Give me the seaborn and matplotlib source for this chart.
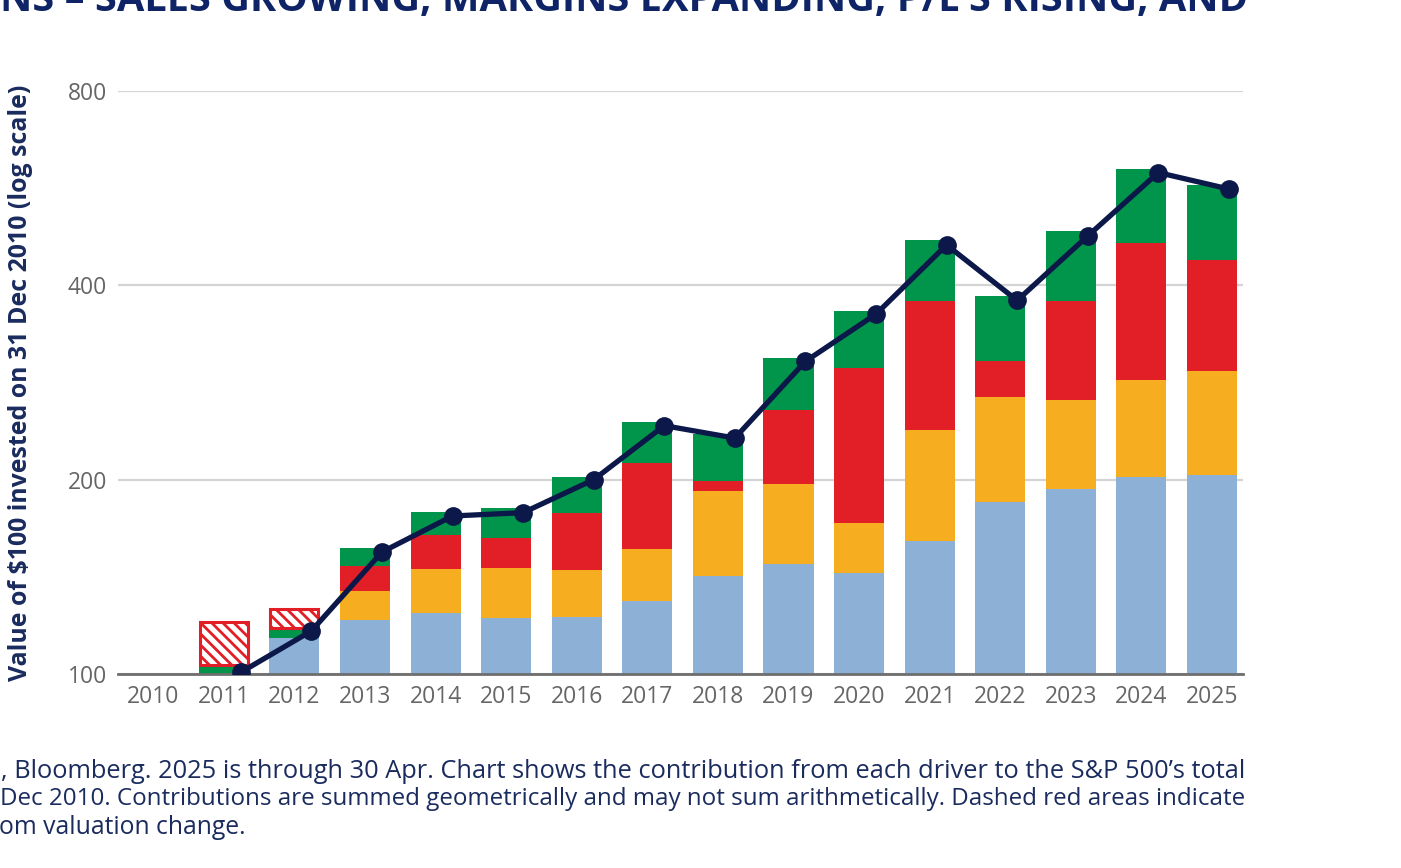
import numpy as np
import seaborn as sns
import matplotlib
matplotlib.use('Agg')
import matplotlib.pyplot as plt

# ---- data (value of $100 invested, log scale) ----
years = [str(y) for y in range(2010, 2026)]
sales_top = [np.nan, np.nan, 113.8, 121.1, 124.2, 122.2, 122.4, 129.8, 141.9,
             148.2, 143.2, 160.9, 184.9, 193.3, 201.7, 203.4]
margin_top = [np.nan, np.nan, np.nan, 134.3, 145.6, 146.0, 144.9, 156.0, 192.1,
              197.0, 171.6, 238.6, 268.7, 266.1, 285.7, 295.1]
pe_top = [np.nan, np.nan, np.nan, 147.2, 164.0, 162.6, 177.8, 212.5, 199.0,
          256.5, 298.2, 378.0, 305.1, 378.0, 465.8, 438.0]
div_top = [np.nan, 103.3, 118.0, 156.8, 178.0, 180.6, 201.9, 246.0, 235.4,
           308.7, 365.5, 470.4, 385.6, 486.2, 606.6, 572.9]
# negative contribution from valuation change (dashed red boxes)
pe_neg_top = [np.nan, 120.5, 125.9, np.nan, np.nan, np.nan, np.nan, np.nan, np.nan,
              np.nan, np.nan, np.nan, np.nan, np.nan, np.nan, np.nan]
total_return = [np.nan, 100.6, 116.6, 154.5, 175.7, 177.8, 200.0, 242.5, 232.0,
                305.0, 361.0, 462.0, 379.0, 477.0, 598.0, 564.0]
yticks = [100, 200, 400, 800]

c_sales = '#8DB1D6'
c_margin = '#F6AD1F'
c_pe = '#E21F26'
c_div = '#00954A'
navy = '#0B1849'
text_navy = '#1A2B5E'

sns.set_theme(style='white')
plt.rcParams['font.family'] = ['Open Sans', 'DejaVu Sans']
plt.rcParams['hatch.linewidth'] = 2.0

fig = plt.figure(figsize=(14.01, 8.68), dpi=100)
ax = fig.add_axes([118 / 1401, 194 / 868, 1125 / 1401, 583 / 868])

bar_w = 0.71
# stacked bars drawn as overlapping layers, tallest first
for vals, col in [(div_top, c_div), (pe_top, c_pe), (margin_top, c_margin), (sales_top, c_sales)]:
    sns.barplot(x=years, y=vals, order=years, color=col, saturation=1,
                width=bar_w, errorbar=None, linewidth=0, ax=ax)

ax.set_yscale('log')

pos = np.arange(len(years))
neg = np.array(pe_neg_top)
base = np.array(div_top)
m = ~np.isnan(neg)
ax.bar(pos[m], neg[m] - base[m], bottom=base[m], width=bar_w - 0.03,
       facecolor='white', edgecolor=c_pe, hatch='\\\\\\', linewidth=2.2, zorder=2)

tot = np.array(total_return)
mt = ~np.isnan(tot)
sns.lineplot(x=pos[mt] + 0.24, y=tot[mt], color=navy, linewidth=3.8,
             marker='o', markersize=13.5, markeredgewidth=0, ax=ax, zorder=5)

ax.set_ylim(100, 800)
ax.set_xlim(-0.5, 15.44)
ax.set_yticks(yticks)
ax.set_yticklabels([str(v) for v in yticks])
ax.yaxis.set_minor_locator(matplotlib.ticker.NullLocator())
ax.grid(axis='y', color='#D4D4D4', linewidth=1.6, zorder=0)
ax.set_axisbelow(True)
for s in ['left', 'right', 'top']:
    ax.spines[s].set_visible(False)
ax.spines['bottom'].set_color('#6E6E6E')
ax.spines['bottom'].set_linewidth(2)
ax.tick_params(axis='both', length=0, labelsize=16.5, labelcolor='#666666')
ax.tick_params(axis='y', pad=8)
ax.tick_params(axis='x', pad=8)
ax.set_xlabel('')
ylab = ax.set_ylabel('Value of $100 invested on 31 Dec 2010 (log scale)', fontsize=16,
                     fontweight='bold', color=text_navy)
ylab.set_va('center')
ax.yaxis.set_label_coords(-0.087, 0.5)

# title, cut off at top of the crop
title = fig.text(0.0, 1 - 11 / 868, 'NS – SALES GROWING, MARGINS EXPANDING, P/E’S RISING, AND',
                 ha='left', va='baseline', fontsize=30, fontweight='bold', color='#0E2466')

# footnote, cut off at left of the crop
foot1 = fig.text(1245 / 1401, 1 - 771 / 868,
                 ', Bloomberg. 2025 is through 30 Apr. Chart shows the contribution from each driver to the S&P 500’s total',
                 ha='right', va='center', fontsize=15, color=text_navy)
foot2 = fig.text(1245 / 1401, 1 - 799 / 868,
                 'Dec 2010. Contributions are summed geometrically and may not sum arithmetically. Dashed red areas indicate',
                 ha='right', va='center', fontsize=15, color=text_navy)
foot3 = fig.text(-1 / 1401, 1 - 828 / 868, 'om valuation change.',
                 ha='left', va='center', fontsize=15, color=text_navy)

# scale fonts so the text spans match the reference
fig.canvas.draw()
r = fig.canvas.get_renderer()
title.set_fontsize(30 * 1248 / title.get_window_extent(r).width)
ylab.set_fontsize(16 * 595 / ylab.get_window_extent(r).height)
fs1 = 15 * 1243 / foot1.get_window_extent(r).width
fs2 = 15 * 1245 / foot2.get_window_extent(r).width
foot1.set_fontsize(fs1)
foot2.set_fontsize(fs2)
foot3.set_fontsize((fs1 + fs2) / 2)

fig.savefig('out.png', dpi=100)
